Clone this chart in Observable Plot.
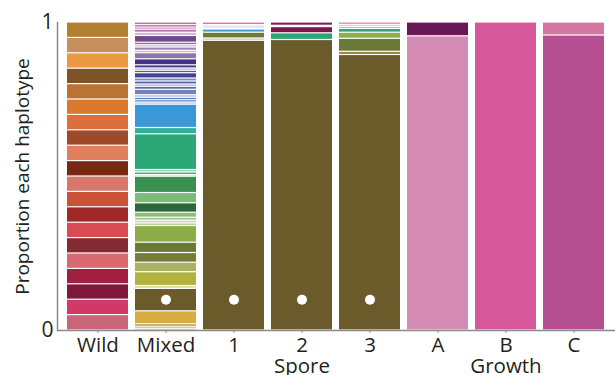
<!DOCTYPE html>
<html><head><meta charset="utf-8">
<script src="https://cdn.jsdelivr.net/npm/d3@7"></script>
<script src="https://cdn.jsdelivr.net/npm/@observablehq/plot@0.6"></script>
<style>body{margin:0;background:#fff;}</style>
</head><body><div id="chart"></div>
<script>
// Bars (x categories) and group labels
const bars = ["Wild","Mixed","1","2","3","A","B","C"];
const groupLabels = {"2": "Spore", "B": "Growth"};
const yTitle = "Proportion each haplotype";
const yTicks = [0, 1];

// Haplotype segments, listed top to bottom (relative abundance, normalized per bar)
const wildValues = [1,1,1,1,1,1,1,1,1,1,1,1,1,1,1,1,1,1,1,1];
const wildColors = ["#b07f2f","#c78f5d","#eb9a42","#7e5325","#b97434","#d8792e","#dd6f3c","#9c4a28","#e07f5d","#782713",
  "#d6786a","#cb5137","#9e2926","#d84c53","#842a33","#d7696f","#a11f41","#7f193b","#d13a66","#c86577"];

const mixedValues = [2.7,2.3,2.2,3,3.3,6.7,2.5,2.3,3.3,2.4,6.1,6,3.2,2.3,2.4,5.3,3,3,2.3,3,5.4,2.6,2.4,2.3,2.2,
  23.3,6.3,35.7,2.5,2.5,1.7,16.3,10.3,9.4,5,3.1,2.6,2.6,16.7,10.3,9.7,9.5,13.8,2.9,22.4,13,2.4,2.1,1.7];
const mixedColors = ["#c46ca4","#a24c92","#c488b8","#b272aa","#d6b6d8","#704888","#9464a4","#ccaed4","#a082b4","#c6b6d6",
  "#8c76aa","#413282","#4a3e8c","#b4acd2","#5a52a2","#414394","#8282ba","#5262aa","#a4aad4","#626aaa","#7282ba","#acbce2",
  "#5a7ac2","#4a72ba","#acc4e4","#3a98d8","#30b09e","#2ca878","#8cd2aa","#3aa474","#b4e0c4","#3a9050","#7aba7a","#2a683a",
  "#92b882","#a2c892","#c4daa4","#b0d092","#8cac48","#6a7a34","#727e3a","#aab262","#b2b23e","#dcdca4","#6b5a2a","#d8ac40",
  "#a08032","#dcb04a","#c89838"];

const spore1Values = [2.6,1.5,1.7,1.2,3.2,5.8,2.3,289.7];
const spore1Colors = ["#e070a8","#f2b4d2","#a4a4d4","#d0d8ee","#4898d8","#6b7a38","#cac2a2","#6b5a2a"];
const spore2Values = [3.3,1.3,6.2,6.7,290.5];
const spore2Colors = ["#80205a","#e8c8d8","#78184c","#2aa676","#6b5a2a"];
const spore3Values = [2.3,2,2.2,3.7,6.1,13,3.2,275.5];
const spore3Colors = ["#e070a0","#f2b2ca","#e4a0c0","#30a070","#8cb048","#6b7a38","#a08030","#6b5a2a"];

const growthAValues = [13.8,294.2];
const growthAColors = ["#6a1758","#d48cb4"];
const growthBValues = [308];
const growthBColors = ["#d6589a"];
const growthCValues = [13,295];
const growthCColors = ["#d4769f","#b54f91"];

// Marker for the shared (dominant) haplotype
const dotBars = ["Mixed","1","2","3"];
const dotLevel = 0.1;

const rows = [];
function add(bar, values, colors) {
  values.forEach((v, i) => rows.push({bar, value: v, color: colors[i]}));
}
add("Wild", wildValues, wildColors);
add("Mixed", mixedValues, mixedColors);
add("1", spore1Values, spore1Colors);
add("2", spore2Values, spore2Colors);
add("3", spore3Values, spore3Colors);
add("A", growthAValues, growthAColors);
add("B", growthBValues, growthBColors);
add("C", growthCValues, growthCColors);

const chart = Plot.plot({
  width: 615, height: 375,
  marginLeft: 57, marginRight: 0, marginTop: 22, marginBottom: 45,
  style: {fontFamily: "'Open Sans', sans-serif", color: "#231f20", background: "white"},
  x: {domain: bars, paddingInner: 0.1, paddingOuter: 0.12, label: null},
  y: {domain: [0, 1], label: null},
  marks: [
    Plot.barY(rows, Plot.stackY({x: "bar", y: "value", fill: "color", offset: "normalize", reverse: true, insetTop: 0.6, insetBottom: 0.6})),
    Plot.dot(dotBars, {x: d => d, y: () => dotLevel, r: 5, fill: "white"}),
    Plot.ruleY([0], {stroke: "#8a8a8a", strokeWidth: 1.5}),
    Plot.frame({anchor: "left", stroke: "#8a8a8a", strokeWidth: 1.5}),
    Plot.axisY({ticks: yTicks, tickFormat: d => String(d), tickSize: 0, tickPadding: 4, fontSize: 21, label: null}),
    Plot.axisX({tickSize: 3, tickPadding: 4, fontSize: 20.5, lineHeight: 1, stroke: "#8a8a8a", label: null,
      tickFormat: d => groupLabels[d] ? d + "\n" + groupLabels[d] : d}),
    Plot.text([yTitle], {text: d => d, frameAnchor: "left", textAnchor: "middle", dx: -35, rotate: -90, fontSize: 19, fill: "#231f20"})
  ]
});
document.getElementById("chart").append(chart);
</script>
</body></html>
